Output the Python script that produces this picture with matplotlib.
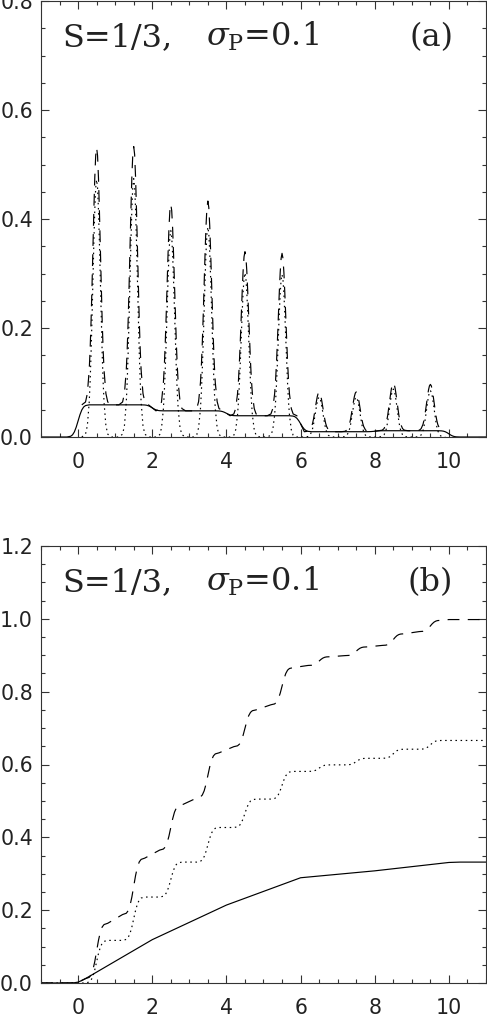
import numpy as np
import matplotlib
matplotlib.use("Agg")
import matplotlib.pyplot as plt
from matplotlib.ticker import MultipleLocator

plt.rcParams['mathtext.fontset'] = 'dejavuserif'
plt.rcParams['lines.scale_dashes'] = False

# ---- panel (a) ----
# peak centres and heights of the dotted curve
peak_x = [0.5, 1.5, 2.5, 3.5, 4.5, 5.5, 6.5, 7.5, 8.5, 9.5]
peak_h = [0.472, 0.474, 0.379, 0.385, 0.301, 0.298, 0.073, 0.073, 0.088, 0.085]
# solid curve level under each peak (dashed = dotted + solid)
peak_base = [0.059, 0.059, 0.048, 0.048, 0.039, 0.039, 0.0097, 0.0097, 0.0115, 0.0115]
# solid curve: step positions and levels
step_x = [0, 2, 4, 6, 8, 10]
step_level = [0.0, 0.059, 0.048, 0.039, 0.0097, 0.0115, 0.0]

# shape of one peak (fraction of height)
prof_dx = [-0.4, -0.3, -0.25, -0.2, -0.175, -0.15, -0.125, -0.1, -0.075, -0.05, -0.025, 0,
           0.025, 0.05, 0.075, 0.1, 0.125, 0.15, 0.175, 0.2, 0.25, 0.3, 0.4]
prof_f = [0.0, 0.011, 0.044, 0.135, 0.216, 0.325, 0.458, 0.607, 0.755, 0.882, 0.969, 1.0,
          0.969, 0.882, 0.755, 0.607, 0.458, 0.325, 0.216, 0.135, 0.044, 0.011, 0.0]
# shape of one smooth step (fraction of the jump)
stp_dx = [-0.3, -0.2, -0.15, -0.1, -0.05, 0, 0.05, 0.1, 0.15, 0.2, 0.3]
stp_f = [0.0, 0.023, 0.067, 0.159, 0.309, 0.5, 0.691, 0.841, 0.933, 0.977, 1.0]

# ---- panel (b) ----
cum_solid_x = [-1, -0.2, -0.1, 0, 0.1, 0.2, 0.3, 2, 4, 6, 8, 10, 10.3, 11]
cum_solid_y = [0, 0.0002, 0.0008, 0.0024, 0.0068, 0.0122, 0.018,
               0.119, 0.214, 0.289, 0.308, 0.331, 0.332, 0.332]
cum_dot_level = [0, 0.117, 0.236, 0.332, 0.427, 0.505, 0.581, 0.599, 0.617, 0.642, 0.666]
cum_dash_before = [0.012, 0.188, 0.365, 0.508, 0.649, 0.764, 0.872, 0.899, 0.927, 0.965]
cum_dash_after = [0.164, 0.343, 0.489, 0.632, 0.750, 0.866, 0.896, 0.923, 0.959, 0.996]


def steps_curve(centres, before, after):
    xs, ys = [], []
    for c, b, a in zip(centres, before, after):
        for dx, f in zip(stp_dx, stp_f):
            xs.append(c + dx)
            ys.append(b + f * (a - b))
    return xs, ys


def peaks_curve(base):
    xs, ys = [], []
    for c, h, b in zip(peak_x, peak_h, base):
        for dx, f in zip(prof_dx, prof_f):
            xs.append(c + dx)
            ys.append(b + h * f)
    return xs, ys


fig = plt.figure(figsize=(4.87, 10.17), dpi=100)
ax_a = fig.add_axes([41/487, 1-437/1017, 445/487, 436/1017])
ax_b = fig.add_axes([41/487, 1-983/1017, 445/487, 437/1017])

lw = 0.85
dash = (0, (8.5, 6.0))
dot = (0, (1.1, 2.6))

# panel (a)
sx, sy = steps_curve(step_x, step_level[:-1], step_level[1:])
ax_a.plot([-1] + sx + [11], [0] + sy + [0], color='black', lw=lw)
px, py = peaks_curve([0] * len(peak_x))
ax_a.plot(px, py, color='black', lw=lw, linestyle=dot)
dx_, dy_ = peaks_curve(peak_base)
ax_a.plot(dx_, dy_, color='black', lw=lw, linestyle=dash)
ax_a.set_ylim(0, 0.8)

# panel (b)
ax_b.plot(cum_solid_x, cum_solid_y, color='black', lw=lw)
tx, ty = steps_curve(peak_x, cum_dot_level[:-1], cum_dot_level[1:])
ax_b.plot([-1] + tx + [11], [0] + ty + [cum_dot_level[-1]], color='black', lw=lw, linestyle=dot)
ux, uy = steps_curve(peak_x, cum_dash_before, cum_dash_after)
ax_b.plot([-1, -0.2, 0.0] + ux + [10, 11], [0, 0.0002, 0.0024] + uy + [0.998, 0.998],
          color='black', lw=lw, linestyle=dash)
ax_b.set_ylim(0, 1.2)

tkw = dict(transform=None, family='DejaVu Serif', fontsize=23, va='baseline', color='#222222')
for ax, lab in [(ax_a, '(a)'), (ax_b, '(b)')]:
    ax.set_xlim(-1, 11)
    ax.xaxis.set_major_locator(MultipleLocator(2))
    ax.xaxis.set_minor_locator(MultipleLocator(0.5))
    ax.yaxis.set_major_locator(MultipleLocator(0.2))
    ax.yaxis.set_minor_locator(MultipleLocator(0.05))
    ax.tick_params(which='both', direction='in', top=True, right=True, width=0.8, color='#333333')
    ax.tick_params(which='major', length=6)
    ax.tick_params(which='minor', length=3.2)
    ax.tick_params(axis='x', which='major', pad=10.5, labelsize=14.8, labelcolor='#222222')
    ax.tick_params(axis='y', which='major', pad=5.8, labelsize=14.8, labelcolor='#222222')
    for s in ax.spines.values():
        s.set_linewidth(0.8)
        s.set_color('#333333')
    tkw['transform'] = ax.transAxes
    ax.text(0.049, 0.897, 'S=1/3,', ha='left', **tkw)
    ax.text(0.371, 0.897, r'$\sigma_{\mathrm{P}}$=0.1', ha='left', **tkw)
    ax.text(0.926, 0.897, lab, ha='right', **tkw)

fig.savefig('out.png', dpi=100)
